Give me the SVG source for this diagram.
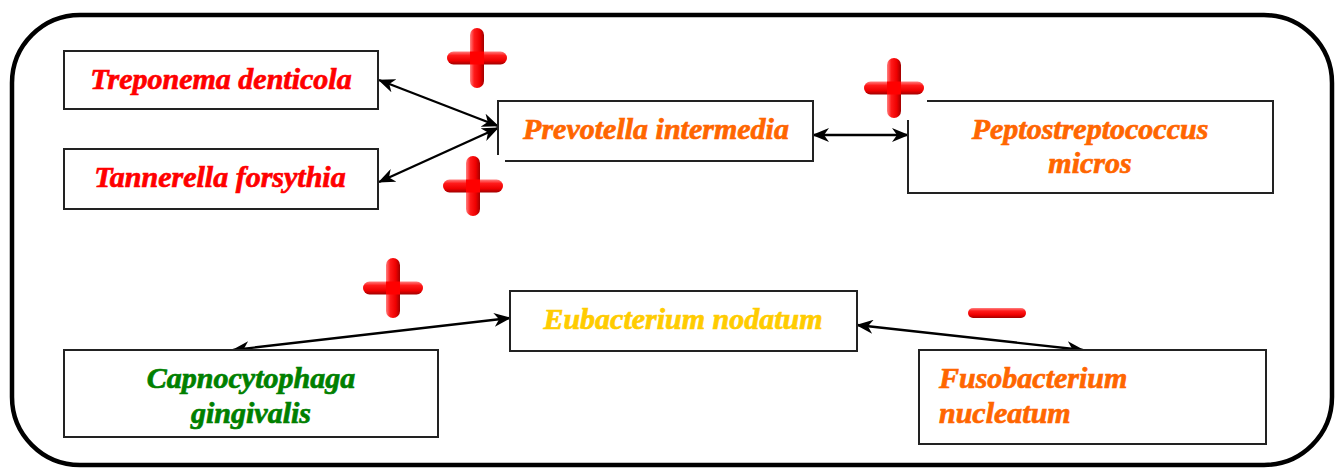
<svg xmlns="http://www.w3.org/2000/svg" width="1336" height="468" viewBox="0 0 1336 468">
<style>
.box{fill:#fff;stroke:#222;stroke-width:2}
.t{font-family:"Liberation Serif","Times New Roman",serif;font-weight:bold;font-style:italic;font-size:30px;stroke-width:0.7px}
.red{fill:#ff0000;stroke:#ff0000}.org{fill:#ff6600;stroke:#ff6600}.yel{fill:#ffcc00;stroke:#ffcc00}.grn{fill:#008000;stroke:#008000}
.con{stroke:#000;stroke-width:2.4;fill:none;marker-start:url(#ah);marker-end:url(#ah)}
</style>
<defs>
<marker id="ah" markerUnits="userSpaceOnUse" markerWidth="17" markerHeight="14" refX="16" refY="7" orient="auto-start-reverse">
<path d="M0,0 L17,7 L0,14 L5,7 z" fill="#000"/>
</marker>
<linearGradient id="gh" x1="0" y1="0" x2="0" y2="1">
<stop offset="0" stop-color="#ff8080"/><stop offset="0.3" stop-color="#ff1a1a"/><stop offset="0.7" stop-color="#ee0000"/><stop offset="1" stop-color="#a00000"/>
</linearGradient>
<linearGradient id="gv" x1="0" y1="0" x2="1" y2="0">
<stop offset="0" stop-color="#ff8080"/><stop offset="0.3" stop-color="#ff1a1a"/><stop offset="0.7" stop-color="#ee0000"/><stop offset="1" stop-color="#a00000"/>
</linearGradient>
<g id="plus">
<rect x="-30" y="-6.5" width="60" height="13" rx="6.5" fill="url(#gh)"/>
<rect x="-7" y="-30" width="14" height="60" rx="7" fill="url(#gv)"/>
<rect x="-7" y="-6.5" width="14" height="13" fill="#f00"/>
</g>
</defs>
<rect x="12" y="15" width="1320" height="450" rx="68" fill="#fff" stroke="#000" stroke-width="4.5"/>
<g id="connectors">
<line class="con" x1="379" y1="80" x2="498" y2="126"/>
<line class="con" x1="379" y1="182" x2="498" y2="128"/>
<line class="con" x1="813" y1="135" x2="908" y2="135"/>
<line class="con" x1="233" y1="350" x2="510" y2="318"/>
<line class="con" x1="857" y1="325" x2="1083" y2="350"/>
</g>
<g id="treponema">
<rect class="box" x="64" y="51" width="314" height="58"/>
<text class="t red" x="221" y="89" text-anchor="middle">Treponema denticola</text>
</g>
<g id="tannerella">
<rect class="box" x="64" y="149" width="314" height="60"/>
<text class="t red" x="220" y="187" text-anchor="middle">Tannerella forsythia</text>
</g>
<g id="prevotella">
<rect x="498" y="101" width="315" height="60" fill="#fff"/>
<path class="box" d="M505,161 H813 V101 H498 V155"/>
<text class="t org" x="656" y="139" text-anchor="middle">Prevotella intermedia</text>
</g>
<g id="peptostreptococcus">
<rect x="908" y="101" width="365" height="92" fill="#fff"/>
<path class="box" d="M927,101 H1273 V193 H908 V120"/>
<text class="t org" x="1090" y="139" text-anchor="middle">Peptostreptococcus</text>
<text class="t org" x="1090" y="173" text-anchor="middle">micros</text>
</g>
<g id="eubacterium">
<rect class="box" x="510" y="291" width="347" height="60"/>
<text class="t yel" x="683" y="329" text-anchor="middle">Eubacterium nodatum</text>
</g>
<g id="capnocytophaga">
<rect class="box" x="64" y="350" width="374" height="87"/>
<text class="t grn" x="251" y="388" text-anchor="middle">Capnocytophaga</text>
<text class="t grn" x="251" y="423" text-anchor="middle">gingivalis</text>
</g>
<g id="fusobacterium">
<rect class="box" x="919" y="350" width="347" height="94"/>
<text class="t org" x="939" y="388">Fusobacterium</text>
<text class="t org" x="939" y="423">nucleatum</text>
</g>
<g id="signs">
<use href="#plus" x="477" y="58"/>
<use href="#plus" x="473" y="186"/>
<use href="#plus" x="894" y="88"/>
<use href="#plus" x="393" y="288"/>
<rect x="968" y="308" width="58" height="10" rx="5" fill="url(#gh)"/>
</g>
</svg>
